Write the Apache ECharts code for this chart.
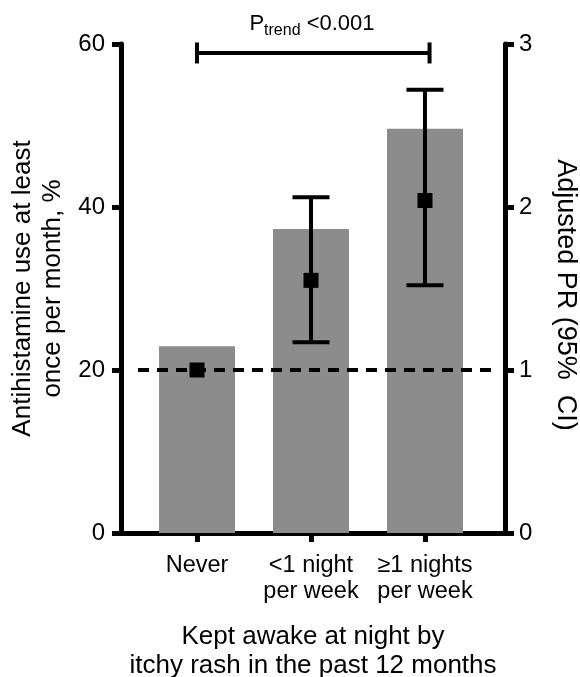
<!DOCTYPE html>
<html>
<head>
<meta charset="utf-8">
<script src="https://cdn.jsdelivr.net/npm/echarts@6/dist/echarts.min.js"></script>
<style>html,body{margin:0;padding:0;background:#fff}#c{width:580px;height:677px}</style>
</head>
<body>
<div id="c"></div>
<script>
// ---- data ----
const categories = ['Never', '<1 night\nper week', '\u22651 nights\nper week'];
const categoryPos = [0, 1, 2];
const antihistamineUse = [22.9, 37.3, 49.6];          // %, left axis
const adjustedPR = [1.0, 1.55, 2.04];                  // right axis
const prLower = [null, 1.17, 1.52];
const prUpper = [null, 2.06, 2.72];
const leftTicks = [0, 20, 40, 60];
const rightTicks = [0, 1, 2, 3];
const trendBracket = { from: 0, to: 2.04, level: 58.9 };   // left-axis units
const referencePR = 1;

const FONT = "'Liberation Sans', Arial, Helvetica, sans-serif";
const chart = echarts.init(document.getElementById('c'), null, { renderer: 'canvas' });

const barData = categoryPos.map((x, i) => [x, antihistamineUse[i]]);
const prData = categoryPos.map((x, i) => [x, adjustedPR[i]]);
const errData = categoryPos.map((x, i) => [x, prLower[i], prUpper[i]]).filter(d => d[1] != null);

const axisLineStyle = { color: '#000', width: 5 };
const tickStyle = { width: 5, color: '#000' };

chart.setOption({
  animation: false,
  backgroundColor: '#fff',
  textStyle: { fontFamily: FONT },
  grid: { left: 121, right: 75, top: 44, bottom: 144, outerBoundsMode: 'none' },
  xAxis: {
    type: 'value', min: -0.667, max: 2.702,
    axisLine: { show: true, onZero: false, lineStyle: axisLineStyle },
    axisTick: { show: true, customValues: categoryPos, length: 9, lineStyle: tickStyle },
    axisLabel: { customValues: categoryPos, formatter: v => categories[Math.round(v)], fontSize: 23.5, color: '#000', margin: 20, lineHeight: 26, fontFamily: FONT },
    splitLine: { show: false },
    name: 'Kept awake at night by\nitchy rash in the past 12 months',
    nameLocation: 'middle', nameGap: 89,
    nameTextStyle: { fontSize: 26, color: '#000', lineHeight: 29, fontFamily: FONT }
  },
  yAxis: [{
    type: 'value', min: leftTicks[0], max: leftTicks[leftTicks.length - 1], interval: 20, position: 'left',
    axisLine: { show: true, onZero: false, lineStyle: axisLineStyle },
    axisTick: { show: true, length: 9, lineStyle: tickStyle },
    axisLabel: { fontSize: 24, color: '#000', margin: 16, fontFamily: FONT },
    splitLine: { show: false },
    name: 'Antihistamine use at least\nonce per month, %',
    nameLocation: 'middle', nameGap: 52, nameRotate: 90,
    nameTextStyle: { fontSize: 26, color: '#000', lineHeight: 30, fontFamily: FONT }
  }, {
    type: 'value', min: rightTicks[0], max: rightTicks[rightTicks.length - 1], interval: 1, position: 'right',
    axisLine: { show: true, onZero: false, lineStyle: axisLineStyle },
    axisTick: { show: true, length: 9, lineStyle: tickStyle },
    axisLabel: { fontSize: 24, color: '#000', margin: 14, fontFamily: FONT },
    splitLine: { show: false },
    name: 'Adjusted PR (95%  CI)',
    nameLocation: 'middle', nameGap: 47, nameRotate: -90,
    nameTextStyle: { fontSize: 27, color: '#000', fontFamily: FONT, padding: [0, 0, 0, 13] }
  }],
  graphic: [{
    type: 'text', x: 312, y: 24,
    style: {
      text: '{a|P}{b|trend}{a| <0.001}',
      align: 'center', verticalAlign: 'middle',
      rich: {
        a: { fontSize: 22, fontFamily: FONT, fill: '#000', color: '#000' },
        b: { fontSize: 16, fontFamily: FONT, fill: '#000', color: '#000', padding: [14, 0, 0, 0] }
      }
    }
  }],
  series: [
    {
      type: 'line', yAxisIndex: 1, data: [], z: 1, silent: true,
      markLine: {
        silent: true, symbol: 'none', label: { show: false },
        lineStyle: { color: '#000', width: 4, type: [11, 8], opacity: 1 },
        data: [[{ coord: [-0.518, referencePR] }, { coord: [2.596, referencePR] }]]
      }
    },
    {
      type: 'bar', yAxisIndex: 0, data: barData, barWidth: 76, z: 2,
      itemStyle: { color: '#8c8c8c' }
    },
    {
      type: 'custom', yAxisIndex: 1, data: errData, z: 3,
      renderItem: (params, api) => {
        const x = api.value(0);
        const lo = api.coord([x, api.value(1)]);
        const hi = api.coord([x, api.value(2)]);
        const half = 18.5;
        const st = { stroke: '#000', lineWidth: 4 };
        return { type: 'group', children: [
          { type: 'line', shape: { x1: lo[0], y1: lo[1], x2: hi[0], y2: hi[1] }, style: st },
          { type: 'line', shape: { x1: lo[0] - half, y1: lo[1], x2: lo[0] + half, y2: lo[1] }, style: st },
          { type: 'line', shape: { x1: hi[0] - half, y1: hi[1], x2: hi[0] + half, y2: hi[1] }, style: st }
        ]};
      }
    },
    {
      type: 'scatter', yAxisIndex: 1, data: prData, z: 4,
      symbol: 'rect', symbolSize: 15, itemStyle: { color: '#000', opacity: 1 }
    },
    {
      type: 'custom', yAxisIndex: 0, z: 3, silent: true,
      data: [[trendBracket.from, trendBracket.to, trendBracket.level]],
      renderItem: (params, api) => {
        const a = api.coord([api.value(0), api.value(2)]);
        const b = api.coord([api.value(1), api.value(2)]);
        const h = 10.5;
        const st = { stroke: '#000', lineWidth: 4 };
        return { type: 'group', children: [
          { type: 'line', shape: { x1: a[0], y1: a[1], x2: b[0], y2: b[1] }, style: st },
          { type: 'line', shape: { x1: a[0], y1: a[1] - h, x2: a[0], y2: a[1] + h }, style: st },
          { type: 'line', shape: { x1: b[0], y1: b[1] - h, x2: b[0], y2: b[1] + h }, style: st }
        ]};
      }
    }
  ]
});
</script>
</body>
</html>
